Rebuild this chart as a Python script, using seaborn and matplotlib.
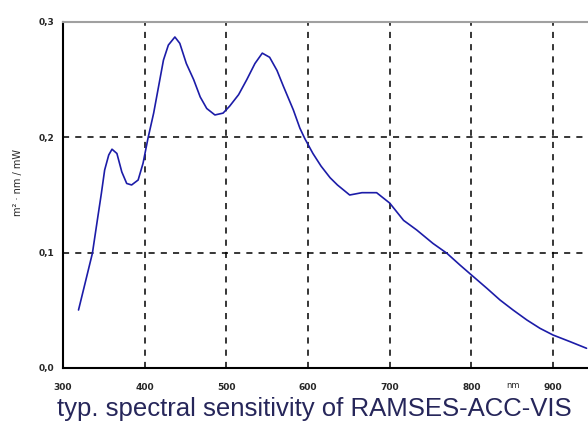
import numpy as np
import pandas as pd
import matplotlib
matplotlib.use("Agg")
import matplotlib.pyplot as plt
import seaborn as sns

# Spectral sensitivity
wavelength = [319, 327, 336, 342, 347, 351, 356, 360, 366, 372, 378, 384, 392,
              398, 404, 411, 417, 423, 429, 437, 443, 451, 460, 468, 476, 486,
              496, 504, 515, 525, 535, 544, 553, 562, 570, 582, 590, 596, 606,
              616, 627, 636, 651, 666, 684, 700, 717, 733, 753, 770, 786, 800,
              819, 835, 851, 868, 884, 900, 921, 941]
sensitivity = [0.0503, 0.0734, 0.0995, 0.128, 0.1515, 0.1717, 0.1847, 0.1897,
               0.186, 0.170, 0.160, 0.1587, 0.163, 0.1775, 0.199, 0.221, 0.244,
               0.267, 0.280, 0.287, 0.2815, 0.264, 0.250, 0.235, 0.225, 0.2194,
               0.221, 0.227, 0.237, 0.250, 0.264, 0.273, 0.2694, 0.258, 0.244,
               0.2238, 0.208, 0.199, 0.186, 0.175, 0.165, 0.1587, 0.150, 0.152,
               0.152, 0.143, 0.128, 0.1197, 0.108, 0.0995, 0.0893, 0.0807,
               0.0691, 0.059, 0.0503, 0.0416, 0.0344, 0.0286, 0.0228, 0.0171]
xticks = [300, 400, 500, 600, 700, 800, 900]
yticks = [0.0, 0.1, 0.2, 0.3]
ytick_labels = ["0,0", "0,1", "0,2", "0,3"]

df = pd.DataFrame({"nm": wavelength, "s": sensitivity})

sns.set_style("white")
plt.rcParams["font.family"] = ["DejaVu Sans"]

fig = plt.figure(figsize=(5.88, 4.30), dpi=100)
ax = fig.add_axes([63 / 588, 1 - 368 / 430, 1 - 63 / 588 + 0.01, 346 / 430])

sns.lineplot(data=df, x="nm", y="s", ax=ax, color="#1c1ca8", linewidth=1.2)

ax.set_xlim(300, 950)
ax.set_ylim(0, 0.3)
ax.set_xticks(xticks)
ax.set_xticklabels([str(t) for t in xticks], fontsize=6.5, fontweight="bold")
ax.set_yticks(yticks)
ax.set_yticklabels(ytick_labels, fontsize=6.5, fontweight="bold")
ax.tick_params(axis="both", direction="out", length=3, width=1.2, color="black", pad=8)
ax.tick_params(axis="y", pad=3)

ax.set_axisbelow(True)
ax.grid(True, color="black", linestyle=(0, (4, 4)), linewidth=1.1)
for s in ["left", "bottom"]:
    ax.spines[s].set_color("black")
    ax.spines[s].set_linewidth(1.5)
ax.spines["top"].set_color("#a0a0a0")
ax.spines["top"].set_linewidth(1.5)
ax.spines["right"].set_visible(False)

ax.set_xlabel("")
ax.set_ylabel("")
fig.text(18 / 588, 1 - 183 / 430, "m² · nm / mW", fontsize=7, rotation=90,
         ha="center", va="center")

fig.text(513 / 588, 1 - 386 / 430, "nm", fontsize=6, ha="center", va="center")
fig.text(314 / 588, 1 - 409 / 430, "typ. spectral sensitivity of RAMSES-ACC-VIS",
         fontsize=18.5, color="#26265a", ha="center", va="center",
         family=["Liberation Sans", "DejaVu Sans"])

fig.savefig("out.png", dpi=100)
